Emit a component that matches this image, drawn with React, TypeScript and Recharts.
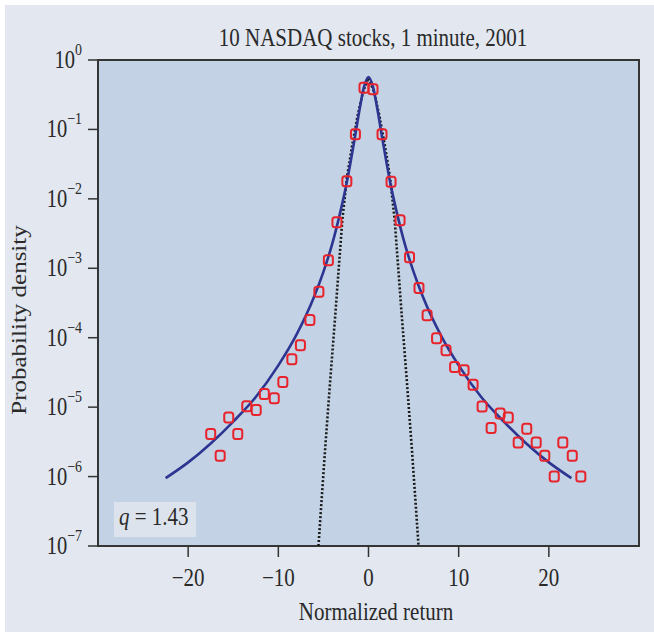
import React from 'react';
import { ComposedChart, Line, Scatter, XAxis, YAxis, ReferenceArea } from 'recharts';

const xTicks = [-20, -10, 0, 10, 20];
const xTickLabels = ['\u221220', '\u221210', '0', '10', '20'];
const yTicks = [1e-7, 1e-6, 1e-5, 1e-4, 1e-3, 1e-2, 1e-1, 1];
const yTickExps = ['\u22127', '\u22126', '\u22125', '\u22124', '\u22123', '\u22122', '\u22121', '0'];

// solid curve: q-Gaussian fit, q = 1.43
const fitX = [-22.5, -20, -17.5, -15, -12.5, -10, -8, -6, -5, -4, -3, -2.5, -2, -1.5, -1, -0.5, 0,
  0.5, 1, 1.5, 2, 2.5, 3, 4, 5, 6, 8, 10, 12.5, 15, 17.5, 20, 22.5];
const fitY = [9.5e-7, 1.6e-6, 3.0e-6, 6.2e-6, 1.4e-5, 4.0e-5, 1.1e-4, 4.0e-4, 8.9e-4, 2.3e-3, 7.6e-3, 1.5e-2, 3.3e-2, 7.8e-2, 0.19, 0.41, 0.57,
  0.41, 0.19, 7.8e-2, 3.3e-2, 1.5e-2, 7.6e-3, 2.3e-3, 8.9e-4, 4.0e-4, 1.1e-4, 4.0e-5, 1.4e-5, 6.2e-6, 3.0e-6, 1.6e-6, 9.5e-7];

// dotted curve: Gaussian
const gaussX = [-5.55, -5.3, -4.8, -4.25, -3.7, -3.3, -2.9, -2.4, -1.8, -1.2, -0.6, 0,
  0.6, 1.2, 1.8, 2.4, 2.9, 3.3, 3.7, 4.25, 4.8, 5.3, 5.55];
const gaussY = [1e-7, 3e-7, 2.6e-6, 2.4e-5, 2.0e-4, 1.0e-3, 5.0e-3, 2.0e-2, 6.0e-2, 0.16, 0.35, 0.55,
  0.35, 0.16, 6.0e-2, 2.0e-2, 5.0e-3, 1.0e-3, 2.0e-4, 2.4e-5, 2.6e-6, 3e-7, 1e-7];

// empirical points
const dataX = [-17.5, -16.45, -15.5, -14.5, -13.5, -12.45, -11.55, -10.45, -9.5, -8.5, -7.55, -6.5, -5.5, -4.45, -3.5, -2.4, -1.45, -0.5,
  0.5, 1.5, 2.5, 3.5, 4.55, 5.6, 6.5, 7.55, 8.6, 9.55, 10.6, 11.6, 12.6, 13.6, 14.6, 15.5, 16.6, 17.55, 18.6, 19.55, 20.6, 21.55, 22.6, 23.55];
const dataY = [4.1e-6, 2.0e-6, 7.1e-6, 4.1e-6, 1.03e-5, 9.1e-6, 1.55e-5, 1.34e-5, 2.3e-5, 4.9e-5, 7.8e-5, 1.8e-4, 4.6e-4, 1.3e-3, 4.6e-3, 1.8e-2, 8.5e-2, 0.40,
  0.38, 8.5e-2, 1.77e-2, 4.9e-3, 1.44e-3, 5.2e-4, 2.1e-4, 9.8e-5, 6.6e-5, 3.8e-5, 3.4e-5, 2.1e-5, 1.02e-5, 5.0e-6, 8.1e-6, 7.1e-6, 3.1e-6, 4.9e-6, 3.1e-6, 2.0e-6, 1.0e-6, 3.1e-6, 2.0e-6, 1.0e-6];

const fitData = fitX.map((x, i) => ({ x, y: fitY[i] }));
const gaussData = gaussX.map((x, i) => ({ x, y: gaussY[i] }));
const pointData = dataX.map((x, i) => ({ x, y: dataY[i] }));

const serif = '"Liberation Serif", "Times New Roman", serif';
const ink = '#2a2a2a';

const XTick = (props: any) => {
  const { x, y, payload, index } = props;
  return (
    <g transform={`translate(${x},${y}) scale(0.84,1)`}>
      <text textAnchor="middle" dy={29} fontFamily={serif} fontSize={25} fill={ink}>
        {xTickLabels[index] ?? payload.value}
      </text>
    </g>
  );
};

const YTick = (props: any) => {
  const { x, y, index } = props;
  return (
    <g transform={`translate(${x},${y}) scale(0.82,1)`}>
      <text textAnchor="end" dy={8} fontFamily={serif} fontSize={25} fill={ink}>
        10<tspan dy={-13} fontSize={17}>{yTickExps[index]}</tspan>
      </text>
    </g>
  );
};

const Marker = (props: any) => {
  const { cx, cy } = props;
  if (cx == null || cy == null) return null;
  return <rect x={cx - 4.5} y={cy - 5} width={9} height={10} rx={2.5} fill="none" stroke="#e8232b" strokeWidth={2} />;
};

export default function App() {
  return (
    <div style={{ position: 'absolute', left: 0, top: 0, width: 654, height: 632, background: '#ffffff' }}>
      <div style={{ position: 'absolute', left: 5, top: 5, width: 649, height: 627, background: '#e2e7f0' }} />
      <div style={{ position: 'absolute', left: 0, top: 0 }}>
        <ComposedChart width={654} height={632} margin={{ top: 60, right: 15, left: 0, bottom: 0 }}>
          <XAxis
            dataKey="x"
            type="number"
            domain={[-30, 30]}
            ticks={xTicks}
            allowDataOverflow
            height={86}
            tickSize={11}
            tickMargin={0}
            tick={<XTick />}
            stroke="#333"
            axisLine={false}
            tickLine={{ stroke: '#333', strokeWidth: 1.5 }}
          />
          <YAxis
            dataKey="y"
            type="number"
            scale="log"
            domain={[1e-7, 1]}
            ticks={yTicks}
            allowDataOverflow
            width={98}
            tickSize={10}
            tickMargin={6}
            tick={<YTick />}
            axisLine={false}
            tickLine={{ stroke: '#333', strokeWidth: 1.5 }}
          />
          <ReferenceArea x1={-30} x2={30} y1={1e-7} y2={1} fill="#c3d2e4" fillOpacity={1} stroke="#353535" strokeWidth={2} ifOverflow="visible" />
          <Line data={gaussData} dataKey="y" type="linear" stroke="#1a1a1a" strokeWidth={2.6} strokeDasharray="2 2" dot={false} isAnimationActive={false} />
          <Line data={fitData} dataKey="y" type="monotone" stroke="#2c3591" strokeWidth={2.6} dot={false} isAnimationActive={false} />
          <Scatter data={pointData} dataKey="y" shape={<Marker />} isAnimationActive={false} />
        </ComposedChart>
      </div>
      <svg width={654} height={632} style={{ position: 'absolute', left: 0, top: 0, pointerEvents: 'none' }}>
        <g transform="translate(373,46) scale(0.84,1)">
          <text textAnchor="middle" fontFamily={serif} fontSize={25} fill={ink}>10 NASDAQ stocks, 1 minute, 2001</text>
        </g>
        <g transform="translate(376,620) scale(0.84,1)">
          <text textAnchor="middle" fontFamily={serif} fontSize={25} fill={ink}>Normalized return</text>
        </g>
        <g transform="translate(26,320) rotate(-90) scale(1,0.84)">
          <text textAnchor="middle" fontFamily={serif} fontSize={25} fill={ink}>Probability density</text>
        </g>
        <rect x={114} y={502} width={82} height={35} fill="#dde3ec" />
        <g transform="translate(119,525) scale(0.84,1)">
          <text fontFamily={serif} fontSize={25} fill={ink}>
            <tspan fontStyle="italic">q</tspan> = 1.43
          </text>
        </g>
      </svg>
    </div>
  );
}
